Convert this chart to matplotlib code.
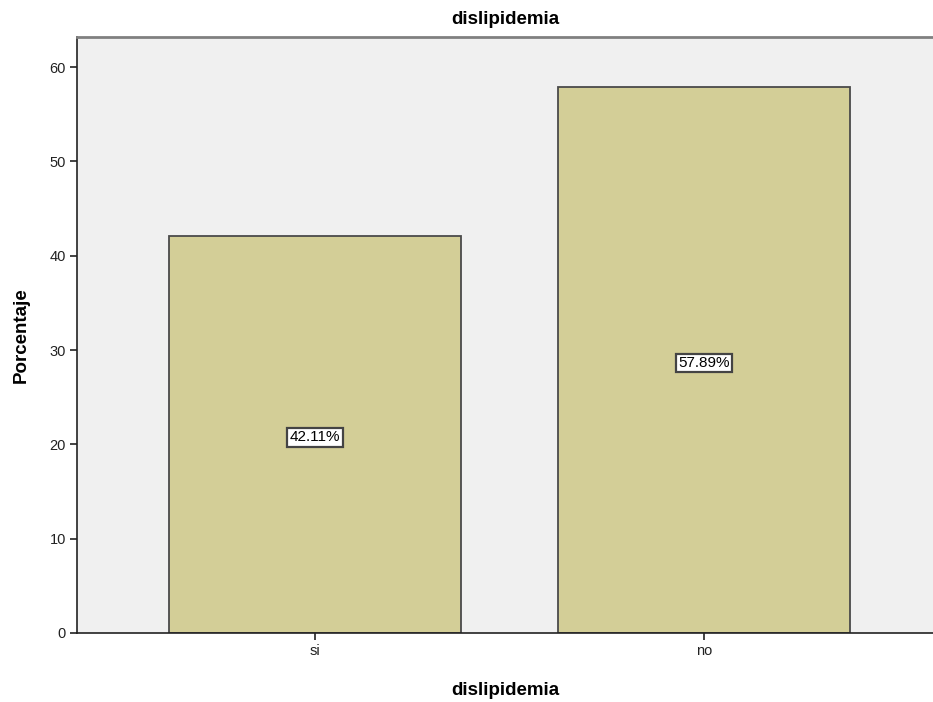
import matplotlib.pyplot as plt
import numpy as np

plt.rcParams['font.family'] = ['Liberation Sans', 'DejaVu Sans']

# data
categories = ['si', 'no']
percentages = [42.11, 57.89]
bar_labels = ['42.11%', '57.89%']
yticks = [0, 10, 20, 30, 40, 50, 60]

fig = plt.figure(figsize=(9.33, 7.02), dpi=100)
ax = fig.add_axes([77/933, 1-633/702, 1-77/933, (633-37)/702])
ax.set_facecolor('#F0F0F0')

x = np.arange(len(categories))
bars = ax.bar(x, percentages, width=0.75, color='#D3CE97', edgecolor='#4a4a4a', linewidth=1.3)

# value labels in the middle of the bars
for b, lab in zip(bars, bar_labels):
    ax.text(b.get_x() + b.get_width()/2, b.get_height()/2 - 0.3, lab, ha='center', va='center',
            fontsize=11, color='black',
            bbox=dict(boxstyle='square,pad=0.15', facecolor='white', edgecolor='#444444', linewidth=1.6))

ax.set_xlim(-0.612, 1.589)
ax.set_ylim(0, 63.2)
ax.set_xticks(x)
ax.set_xticklabels(categories, fontsize=10.5, color='#222222')
ax.set_yticks(yticks)
ax.set_yticklabels([str(t) for t in yticks], fontsize=10.5, color='#222222')
ax.tick_params(axis='both', length=5, width=1.2, color='#222222', pad=3)

for s in ['left', 'bottom']:
    ax.spines[s].set_color('#222222')
    ax.spines[s].set_linewidth(1.2)
ax.spines['top'].set_color('#808080')
ax.spines['top'].set_linewidth(2)
ax.spines['right'].set_visible(False)

ax.set_title('dislipidemia', fontsize=13.5, fontweight='bold', pad=9)
ax.set_xlabel('dislipidemia', fontsize=13.5, fontweight='bold', labelpad=17)
ax.set_ylabel('Porcentaje', fontsize=13.5, fontweight='bold', labelpad=14)

fig.savefig('out.png', dpi=100)
